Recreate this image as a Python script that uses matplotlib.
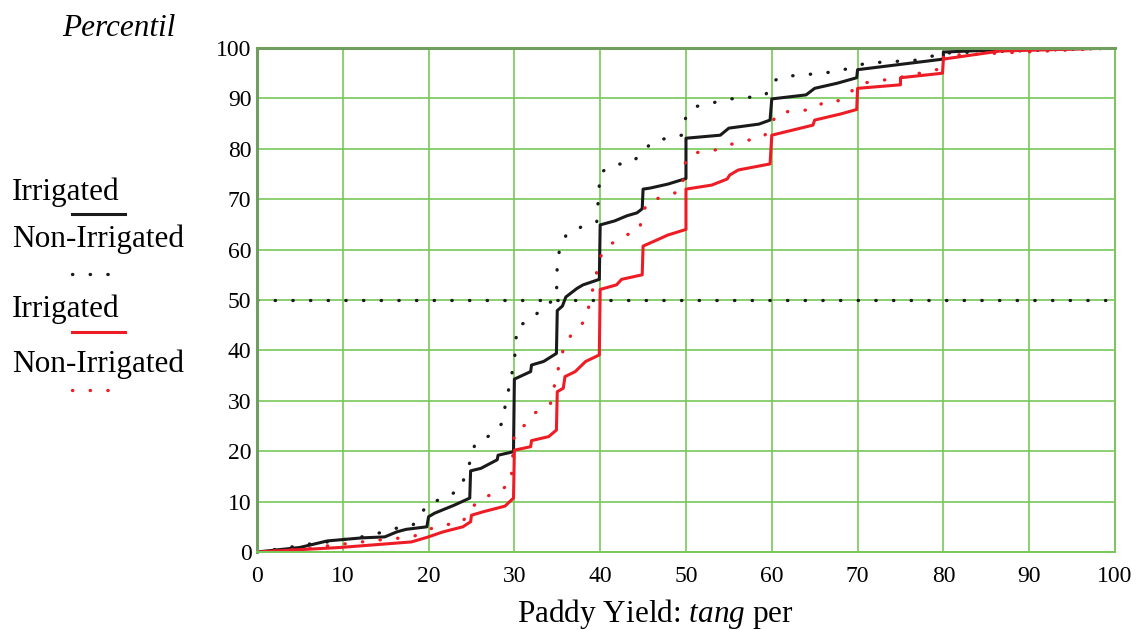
import matplotlib
matplotlib.use("Agg")
import matplotlib.pyplot as plt
from matplotlib.lines import Line2D

plt.rcParams["font.family"] = ["Liberation Serif", "DejaVu Serif"]
plt.rcParams["mathtext.fontset"] = "custom"
plt.rcParams["mathtext.rm"] = "Liberation Serif"
plt.rcParams["mathtext.it"] = "Liberation Serif:italic"

# cumulative percentile curves (yield, percentile)
irr_black_x = [0, 5, 8.2, 12.2, 14.9, 16.3, 17.4, 19.8, 20, 20.7, 23, 24.8, 24.9, 26.1, 28, 28.1, 29.9, 30,
               31.9, 32, 33.4, 34.9, 35, 35.6, 36, 37.3, 38, 39.9, 40, 41.7, 43.1, 44.3, 44.9, 45,
               45.8, 47.9, 50, 50, 54, 55, 58.5, 59.8, 60, 64, 65, 67.6, 69.9, 70, 80, 80, 85.8, 100]
irr_black_y = [0, 0.9, 2.2, 2.8, 3.0, 4.0, 4.5, 5.0, 7.0, 7.7, 9.3, 10.7, 16.1, 16.6, 18.3, 19.2, 19.9, 34.3,
               35.8, 37.1, 37.8, 39.4, 47.9, 48.8, 50.6, 52.3, 53.0, 54.1, 64.9, 65.7, 66.7, 67.3, 68.1, 72,
               72.2, 73.0, 74.1, 82.1, 82.7, 84.1, 84.9, 85.7, 89.9, 90.7, 92.0, 93.0, 94.1, 95.7, 97.8, 99.2, 99.6, 100]

non_black_x = [0, 2.1, 4.2, 6.2, 8.2, 10.2, 12.2, 14.3, 16.2, 18.2, 20, 21.9, 23.7, 24.9, 25.4, 27.2, 28.5, 30,
               30.3, 32, 33.3, 34.9, 35, 35.3, 36.1, 37.8, 39.6, 40, 41.7, 43.8, 44.9, 46.1, 48, 49.5,
               50, 51.2, 53.3, 55.2, 57.3, 59.3, 60, 61.4, 63.5, 65.5, 67.6, 70, 71, 73, 75, 77, 80, 100]
non_black_y = [0, 0.5, 1.05, 1.6, 2.0, 2.5, 3.0, 3.8, 4.7, 5.4, 9.7, 10.7, 12.5, 18.2, 21.4, 23.2, 25.4, 37.8,
               44.7, 46.2, 48.5, 50.4, 57.3, 60.3, 63.1, 64.5, 65.5, 75.3, 76.8, 77.4, 79.3, 81.4, 82.2, 82.7,
               86.4, 88.4, 89.2, 89.9, 90.2, 90.7, 93.3, 94.4, 94.6, 95.0, 95.3, 96.5, 97.0, 97.2, 97.4, 97.6, 99.0, 100]

irr_red_x = [0, 9.7, 18, 19.8, 21.7, 24, 24.9, 25, 26.4, 28.9, 29.9, 30, 31.9, 32, 34, 34.9, 35, 35.7, 35.9,
             37.1, 38.3, 39.9, 40, 41.9, 42.5, 44.9, 45, 46.6, 47.9, 50, 50, 53, 54.8, 55.1, 56.1, 59.8,
             60, 64.8, 65, 68, 69.9, 70, 75, 75, 79.9, 80, 86.6, 100]
irr_red_y = [0, 0.9, 2.0, 2.9, 4.0, 5.0, 6.0, 7.3, 8.0, 9.1, 10.7, 20.2, 20.9, 22.1, 22.9, 24.2, 31.8, 32.5, 34.8,
             35.8, 37.8, 39.1, 52.1, 53.0, 54.1, 55.0, 60.7, 61.9, 62.9, 64.0, 72.0, 72.8, 74.0, 74.8, 75.8, 77.0,
             82.7, 84.7, 85.7, 86.9, 87.8, 92.0, 92.7, 94.1, 95.0, 97.8, 99.4, 100]

non_red_x = [0, 6.1, 8.2, 10.2, 12.2, 14.3, 16.3, 18.4, 20, 21.9, 23.9, 24.9, 26, 27.9, 29.6, 30, 31.4, 32.4,
             34.2, 35, 35.9, 37.1, 38.3, 40, 40.8, 42.6, 44.6, 44.9, 45.6, 47.6, 49.5, 50, 51.4, 53.5, 55,
             57, 59.1, 60, 60.7, 62.7, 64.8, 66.1, 68.1, 70, 70.5, 72.5, 74.5, 80, 80, 100]
non_red_y = [0, 0.7, 1.2, 1.6, 2.0, 2.4, 2.7, 3.2, 4.5, 5.4, 5.8, 8.5, 10.5, 11.8, 13.6, 23.7, 25.4, 27.6,
             29.4, 35.6, 41.5, 44.0, 46.0, 58.5, 60.6, 62.6, 63.9, 67.1, 69.6, 70.6, 71.7, 78.1, 79.3, 79.8, 80.8,
             81.6, 82.4, 85.1, 87.2, 87.5, 87.8, 89.3, 89.6, 92.5, 93.0, 93.5, 94.0, 96.0, 98.5, 100]

median_level = 50
x_ticks = list(range(0, 101, 10))
y_ticks = list(range(0, 101, 10))

black = "#1a1a1a"
red = "#ee1c24"
green = "#78c85a"
dots = (0, (0.1, 5.2))
big = 22.5

fig = plt.figure(figsize=(11.36, 6.30), dpi=100)
ax = fig.add_axes([0.2262, 0.1238, 0.7553, 0.8000])

ax.plot(irr_black_x, irr_black_y, color=black, lw=2.2)
ax.plot(non_black_x, non_black_y, color=black, lw=2.4, linestyle=dots, dash_capstyle="round")
ax.plot(irr_red_x, irr_red_y, color=red, lw=2.2)
ax.plot(non_red_x, non_red_y, color=red, lw=2.4, linestyle=dots, dash_capstyle="round")
ax.axhline(median_level, color=black, lw=2.4, linestyle=dots, dash_capstyle="round")

ax.set_xlim(0, 100)
ax.set_ylim(0, 100)
ax.set_xticks(x_ticks)
ax.set_yticks(y_ticks)
ax.grid(True, color=green, lw=1.2)
ax.set_axisbelow(True)
ax.tick_params(length=0, labelsize=17)
ax.tick_params(axis="x", pad=10)
ax.tick_params(axis="y", pad=4)
for side in ["bottom", "right"]:
    ax.spines[side].set_color(green)
    ax.spines[side].set_linewidth(1.4)
for side in ["top", "left"]:
    ax.spines[side].set_color("#6f9e5f")
    ax.spines[side].set_linewidth(2.2)

fig.text(62 / 1136, 1 - 36 / 630, "Percentil", fontsize=big, style="italic", va="baseline")
fig.text(655 / 1136, 8 / 630, r"Paddy Yield: $\it{tang}$ per", fontsize=big, ha="center", va="baseline")

# legend block on the left
legend_rows = [
    ("Irrigated", 200, 214, black, "-"),
    ("Non-Irrigated", 247, 274, black, dots),
    ("Irrigated", 317, 332, red, "-"),
    ("Non-Irrigated", 372, 390, red, dots),
]
W, H = 1136, 630
for label, base, line_y, col, ls in legend_rows:
    fig.text(12 / W, 1 - base / H, label, fontsize=big, va="baseline")
    fig.add_artist(Line2D([72 / W, 125 / W], [1 - line_y / H, 1 - line_y / H], color=col,
                          lw=2.2 if ls == "-" else 2.4, linestyle=ls, dash_capstyle="round",
                          transform=fig.transFigure))

fig.savefig("out.png", dpi=100)
